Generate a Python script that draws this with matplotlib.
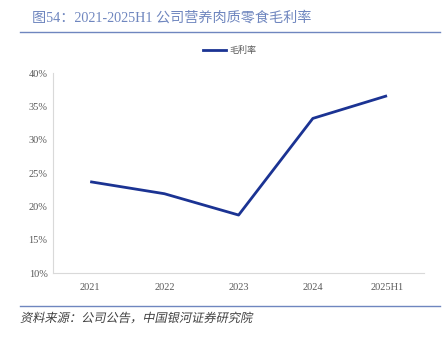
import matplotlib
matplotlib.use("Agg")
import matplotlib.pyplot as plt
from matplotlib.lines import Line2D
from matplotlib.patches import PathPatch
from matplotlib.textpath import TextPath
from matplotlib.font_manager import FontProperties
from matplotlib.transforms import Affine2D
from matplotlib.ticker import FuncFormatter

years = ["2021", "2022", "2023", "2024", "2025H1"]
gross_margin = [23.7, 21.9, 18.7, 33.2, 36.6]
yticks = [10, 15, 20, 25, 30, 35, 40]

plt.rcParams['font.family'] = ['Liberation Serif', 'Noto Sans CJK SC']

fig = plt.figure(figsize=(4.46, 3.40), dpi=100)
ax = fig.add_axes([0.119, 0.197, 0.832, 0.588])

x = range(len(years))
ax.plot(x, gross_margin, color='#1b3393', lw=2.0, solid_capstyle='butt')

ax.set_xlim(-0.5, len(years) - 0.5)
ax.set_ylim(10, 40)
ax.set_yticks(yticks)
ax.yaxis.set_major_formatter(FuncFormatter(lambda v, p: f"{v:.0f}%"))
ax.set_xticks(list(x))
ax.set_xticklabels(years)
ax.tick_params(axis='both', length=0, labelsize=7.5, colors='#595959', pad=7)
ax.tick_params(axis='y', pad=4)

for side in ['top', 'right']:
    ax.spines[side].set_visible(False)
for side in ['left', 'bottom']:
    ax.spines[side].set_color('#d9d9d9')
    ax.spines[side].set_linewidth(0.8)

# legend above the plot
handle = Line2D([], [], color='#1b3393', lw=2.0)
fig.legend([handle], ["毛利率"], loc='center', bbox_to_anchor=(0.515, 0.852),
           frameon=False, handlelength=2.6, handletextpad=0.4,
           prop={'family': ['Noto Sans CJK SC'], 'size': 6.5}, labelcolor='#595959')

# title and rules
fig.text(0.072, 0.947, "图54：2021-2025H1 公司营养肉质零食毛利率", fontsize=10.2,
         color='#6f86bf', va='center', ha='left',
         family=['Liberation Serif', 'Noto Sans CJK SC'])
fig.add_artist(Line2D([0.045, 0.987], [0.907, 0.907], color='#6f86bf', lw=1.0))
fig.add_artist(Line2D([0.045, 0.987], [0.101, 0.101], color='#6f86bf', lw=1.0))

# slanted source note (CJK font has no italic face, so shear the glyph outlines)
src = TextPath((0, 0), "资料来源：公司公告，中国银河证券研究院", size=8.8,
               prop=FontProperties(family='Noto Sans CJK SC'))
src_tf = Affine2D().skew_deg(12, 0).scale(1 / 72).translate(0.20, 0.18) + fig.dpi_scale_trans
fig.add_artist(PathPatch(src, transform=src_tf, facecolor='#404040', edgecolor='none'))

fig.savefig("out.png", dpi=100)
